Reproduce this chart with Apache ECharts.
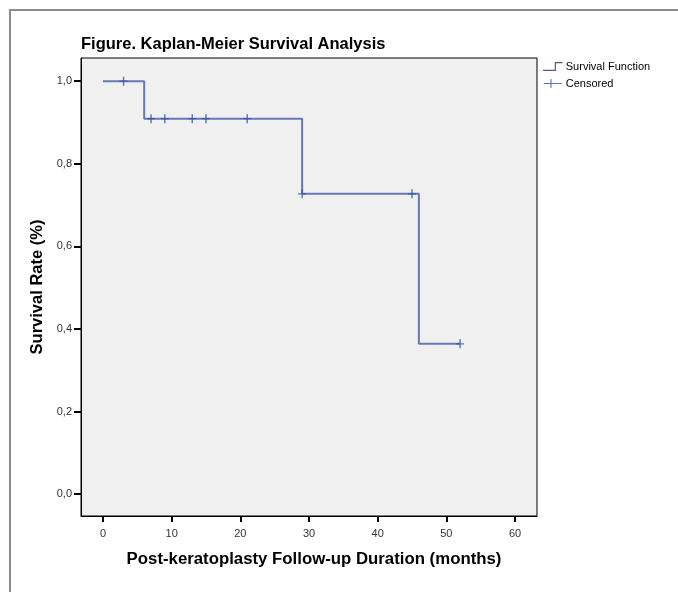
<!DOCTYPE html>
<html>
<head>
<meta charset="utf-8">
<script src="https://cdn.jsdelivr.net/npm/echarts@6/dist/echarts.min.js"></script>
<style>
  html, body { margin: 0; padding: 0; background: #fff; }
  #chart { width: 678px; height: 592px; }
</style>
</head>
<body>
<div id="chart"></div>
<script>
// Kaplan-Meier step values (time in months, survival proportion)
var stepTimes = [0, 6, 29, 46, 52];
var stepSurv = [1.0, 0.909, 0.727, 0.364, 0.364];

// censored observations
var censorTimes = [3, 7, 9, 13, 15, 21, 29, 45, 52];
var censorSurv = [1.0, 0.909, 0.909, 0.909, 0.909, 0.909, 0.727, 0.727, 0.364];

var xTicks = [0, 10, 20, 30, 40, 50, 60];
var yTicks = [0, 0.2, 0.4, 0.6, 0.8, 1.0];

var font = "'Liberation Sans', Arial, sans-serif";

var stepData = stepTimes.map(function (t, i) { return [t, stepSurv[i]]; });
var censorData = censorTimes.map(function (t, i) { return [t, censorSurv[i]]; });

var myChart = echarts.init(document.getElementById('chart'));
var option = {
    animation: false,
    backgroundColor: '#fff',
    textStyle: { fontFamily: font },
    graphic: [{
        type: 'rect',
        shape: { x: 10, y: 10, width: 800, height: 700 },
        style: { fill: 'none', stroke: '#8c8c8c', lineWidth: 2 },
        silent: true
    }],
    title: {
        text: 'Figure. Kaplan-Meier Survival Analysis',
        left: 76,
        top: 31,
        textStyle: { fontFamily: font, fontSize: 16.5, fontWeight: 'bold', color: '#000' }
    },
    legend: {
        orient: 'vertical',
        left: 538,
        top: 56,
        itemWidth: 20,
        itemHeight: 9,
        itemGap: 6,
        textStyle: { fontFamily: font, fontSize: 11, color: '#000', padding: [0, 0, 0, -2] },
        data: [
            {
                name: 'Survival Function',
                icon: 'path://M0,9 L12,9 L12,1 L20,1 L20,2.2 L13.2,2.2 L13.2,10.2 L0,10.2 Z',
                itemStyle: { color: '#4d5c88' }
            },
            {
                name: 'Censored',
                icon: 'path://M0,4.4 L20,4.4 L20,5.6 L0,5.6 Z M7.4,0 L8.6,0 L8.6,10 L7.4,10 Z',
                itemStyle: { color: '#2f4fb0' }
            }
        ]
    },
    grid: {
        left: 81,
        top: 58,
        right: 141,
        bottom: 76,
        show: true,
        backgroundColor: '#f0f0f0',
        borderColor: '#000',
        borderWidth: 1
    },
    xAxis: {
        type: 'value',
        min: -3.2,
        max: 63.2,
        name: 'Post-keratoplasty Follow-up Duration (months)',
        nameLocation: 'middle',
        nameGap: 35,
        nameTextStyle: { fontFamily: font, fontSize: 16.8, fontWeight: 'bold', color: '#000', padding: [0, 0, 0, 10] },
        axisLine: { show: true, onZero: false, lineStyle: { color: '#000', width: 1 } },
        axisTick: { show: true, inside: false, length: 6, customValues: xTicks, lineStyle: { color: '#000', width: 2 } },
        axisLabel: { customValues: xTicks, margin: 12, fontSize: 11, color: '#333', fontFamily: font },
        splitLine: { show: false }
    },
    yAxis: {
        type: 'value',
        min: -0.053,
        max: 1.056,
        name: 'Survival Rate (%)',
        nameLocation: 'middle',
        nameGap: 34,
        nameTextStyle: { fontFamily: font, fontSize: 16.5, fontWeight: 'bold', color: '#000' },
        axisLine: { show: true, onZero: false, lineStyle: { color: '#000', width: 1 } },
        axisTick: { show: true, inside: false, length: 7, customValues: yTicks, lineStyle: { color: '#000', width: 2 } },
        axisLabel: {
            customValues: yTicks,
            margin: 9,
            fontSize: 11,
            color: '#333',
            fontFamily: font,
            formatter: function (value) {
                return value.toFixed(1).replace('.', ',');
            }
        },
        splitLine: { show: false }
    },
    series: [
        {
            name: 'Survival Function',
            type: 'line',
            step: 'end',
            symbol: 'none',
            data: stepData,
            lineStyle: { color: '#6678b8', width: 2 },
            itemStyle: { color: '#4d5c88' },
            z: 2
        },
        {
            name: 'Censored',
            type: 'scatter',
            symbol: 'path://M0,4.3 L8,4.3 L8,5.7 L0,5.7 Z M3.3,0 L4.7,0 L4.7,10 L3.3,10 Z',
            symbolSize: [8, 9],
            data: censorData,
            itemStyle: { color: '#3552a8' },
            z: 3
        }
    ]
};
myChart.setOption(option);
</script>
</body>
</html>
